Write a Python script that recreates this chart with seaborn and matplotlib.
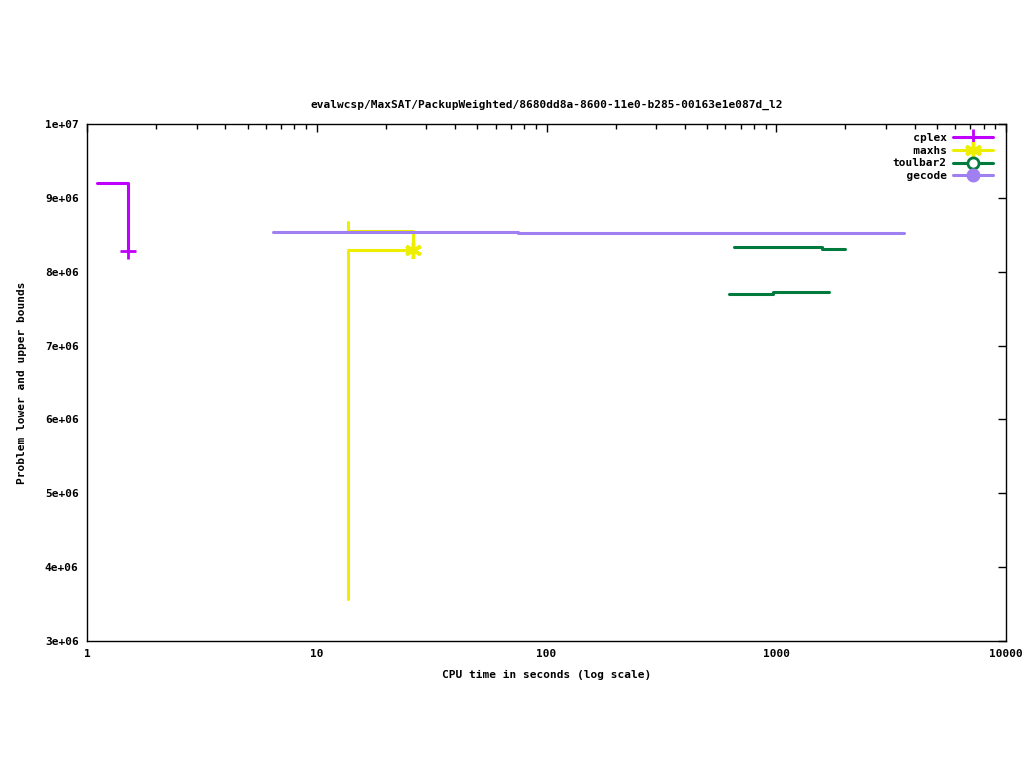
import numpy as np
import matplotlib
matplotlib.use('Agg')
import matplotlib.pyplot as plt
import seaborn as sns
from matplotlib.lines import Line2D

_ = sns.set_style('white')
plt.rcParams['font.family'] = ['DejaVu Sans Mono', 'DejaVu Sans']
plt.rcParams['font.weight'] = 'bold'
plt.rcParams['font.size'] = 8
for k in ['text.color', 'axes.labelcolor', 'xtick.color', 'ytick.color']:
    plt.rcParams[k] = 'black'

title = 'evalwcsp/MaxSAT/PackupWeighted/8680dd8a-8600-11e0-b285-00163e1e087d_l2'

# cplex upper bound
cplex_t = [1.108, 1.512]
cplex_ub = [9.20e6, 8.28e6]
# maxhs upper / lower bounds
maxhs_ub_t = [13.64, 13.64, 26.2]
maxhs_ub = [8.67e6, 8.558e6, 8.294e6]
maxhs_lb_t = [13.64, 13.64, 26.2]
maxhs_lb = [3.57e6, 8.294e6, 8.294e6]
# toulbar2 upper / lower bounds
toulbar2_ub_t = [652, 1574, 2000]
toulbar2_ub = [8.341e6, 8.314e6, 8.314e6]
toulbar2_lb_t = [620, 964, 1705]
toulbar2_lb = [7.705e6, 7.721e6, 7.721e6]
# gecode upper bound
gecode_t = [6.44, 75.0, 3613]
gecode_ub = [8.538e6, 8.520e6, 8.520e6]

colors = {'cplex': '#c000ff', 'maxhs': '#eeee00', 'toulbar2': '#007a3d', 'gecode': '#a080f0'}
lw = 2.2

fig = plt.figure(figsize=(10.24, 7.68), dpi=100)
ax = fig.add_axes([87 / 1024, 1 - 641 / 768, (1006 - 87) / 1024, (641 - 124) / 768])

def step(x, y, c):
    sns.lineplot(x=x, y=y, ax=ax, color=c, lw=lw, drawstyle='steps-post',
                 estimator=None, sort=False)

step(cplex_t, cplex_ub, colors['cplex'])
step(maxhs_ub_t, maxhs_ub, colors['maxhs'])
step(maxhs_lb_t, maxhs_lb, colors['maxhs'])
step(toulbar2_ub_t, toulbar2_ub, colors['toulbar2'])
step(toulbar2_lb_t, toulbar2_lb, colors['toulbar2'])
step(gecode_t, gecode_ub, colors['gecode'])

# end-of-run markers (optimum found)
ax.plot(cplex_t[-1:], cplex_ub[-1:], ls='none', marker='+', markersize=12, mew=2,
        color=colors['cplex'])
ax.plot(maxhs_ub_t[-1:], maxhs_ub[-1:], ls='none', marker=(6, 2, 0), markersize=12, mew=2.5,
        color=colors['maxhs'])

ax.set_xscale('log')
ax.set_xlim(1, 10000)
ax.set_ylim(3e6, 1e7)
ax.set_yticks(np.arange(3e6, 1.01e7, 1e6))
ax.set_yticklabels(['%de+06' % v for v in range(3, 10)] + ['1e+07'])
ax.set_xticks([1, 10, 100, 1000, 10000])
ax.set_xticklabels(['1', '10', '100', '1000', '10000'])
ax.tick_params(which='major', direction='in', length=6, width=1, top=True, right=True,
               color='black', labelcolor='black', labelsize=8, pad=6)
ax.tick_params(which='minor', direction='in', length=3.5, width=1, top=True, right=True,
               color='black')
ax.minorticks_on()
ax.yaxis.set_minor_locator(matplotlib.ticker.NullLocator())
for s in ax.spines.values():
    s.set_color('black')
    s.set_linewidth(1)

ax.set_title(title, fontsize=8, fontweight='bold', pad=12, color='black')
ax.set_xlabel('CPU time in seconds (log scale)', fontsize=8, fontweight='bold', labelpad=8)
ax.set_ylabel('Problem lower and upper bounds', fontsize=8, fontweight='bold', labelpad=13)

handles = [
    Line2D([], [], color=colors['cplex'], lw=lw, marker='+', markersize=12, mew=2),
    Line2D([], [], color=colors['maxhs'], lw=lw, marker=(6, 2, 0), markersize=12, mew=2.5),
    Line2D([], [], color=colors['toulbar2'], lw=lw, marker='o', markersize=8, mew=2,
           markerfacecolor='white'),
    Line2D([], [], color=colors['gecode'], lw=lw, marker='o', markersize=9),
]
labels = ['   cplex', '   maxhs', 'toulbar2', '  gecode']
ax.legend(handles, labels, loc='upper right', frameon=False, markerfirst=False,
          handlelength=3.6, labelspacing=0.25, handletextpad=0.6, borderaxespad=0.4,
          bbox_to_anchor=(0.996, 1.0), labelcolor='black',
          prop={'family': 'DejaVu Sans Mono', 'weight': 'bold', 'size': 8})

fig.savefig('out.png', dpi=100)
